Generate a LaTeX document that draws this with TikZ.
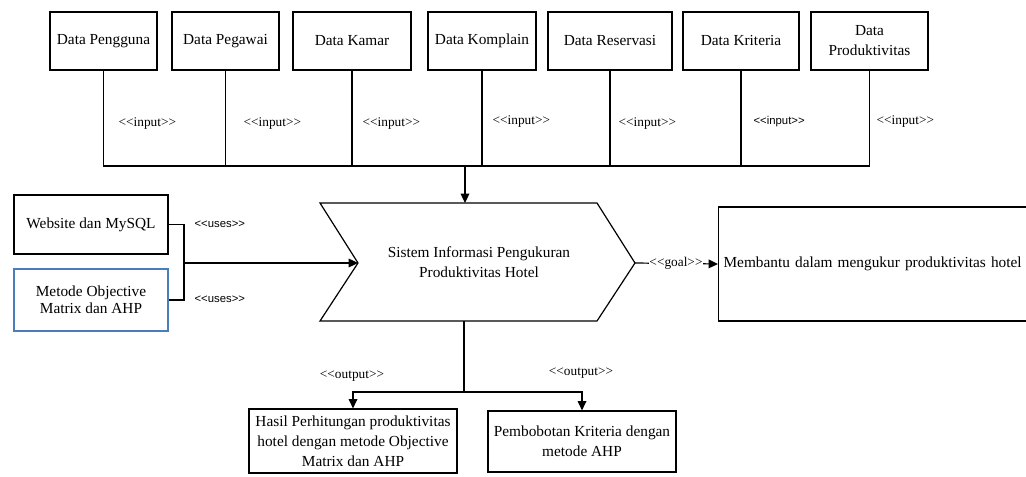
\documentclass[tikz,border=0pt]{standalone}
\usepackage{fontspec}
\setmainfont{Liberation Serif}[Ligatures=ResetAll]
\newfontfamily\labelsans{Liberation Sans}[Ligatures=ResetAll]
\usetikzlibrary{arrows.meta}
\newcommand{\pxu}{0.75pt}
\newcommand{\stereotype}[1]{<{}<#1>{}>}
\definecolor{frameblue}{RGB}{74,126,187}
\begin{document}
\begin{tikzpicture}[x=0.75pt,y=-0.75pt,
  box/.style={draw, line width=0.9pt, align=center, inner sep=2pt,
    font=\rmfamily\fontsize{11.5}{15}\selectfont},
  wire/.style={line width=0.9pt},
  arr/.style={line width=0.9pt, -{Triangle[length=7pt,width=6.5pt]}},
  stereo/.style={font=\rmfamily\fontsize{10}{12}\selectfont, inner sep=1pt},
  stereosmall/.style={font=\labelsans\fontsize{8.5}{10}\selectfont, inner sep=1pt}]
\useasboundingbox (0,0) rectangle (1026,477);
\clip (0,0) rectangle (1026,477);

% data sources along the top
\node[box, minimum width={107*\pxu}, minimum height={58*\pxu}] (b1) at (103.5,41) {Data Pengguna};
\node[box, minimum width={107*\pxu}, minimum height={58*\pxu}] (b2) at (225.5,41) {Data Pegawai};
\node[box, minimum width={118*\pxu}, minimum height={58*\pxu}] (b3) at (352,41) {Data Kamar};
\node[box, minimum width={108*\pxu}, minimum height={58*\pxu}] (b4) at (482,41) {Data Komplain};
\node[box, minimum width={124*\pxu}, minimum height={58*\pxu}] (b5) at (610,41) {Data Reservasi};
\node[box, minimum width={116*\pxu}, minimum height={58*\pxu}] (b6) at (741,41) {Data Kriteria};
\node[box, minimum width={117*\pxu}, minimum height={58*\pxu}] (b7) at (869.5,41) {Data\\Produktivitas};

% input bus
\coordinate (busL) at (103.5,166);
\coordinate (busR) at (869.5,166);
\coordinate (busDrop) at (465,166);
\draw[wire] (b1.south) |- (busR) -- (b7.south);
\foreach \b in {b2,b3,b4,b5,b6}
  \draw[wire] (\b.south) -- (\b.south |- busL);

\node[stereo, anchor=west] (l1) at (117,124) {\stereotype{input}};
\node[stereo, anchor=west] (l2) at (242,124) {\stereotype{input}};
\node[stereo, anchor=west] (l3) at (361,124) {\stereotype{input}};
\node[stereo, anchor=west] (l4) at (491,122) {\stereotype{input}};
\node[stereo, anchor=west] (l5) at (617,124) {\stereotype{input}};
\node[stereosmall, anchor=west] (l6) at (752,122) {\stereotype{input}};
\node[stereo, anchor=west] (l7) at (875,122) {\stereotype{input}};

% central system (chevron)
\coordinate (sysTL) at (320,203);
\coordinate (sysTR) at (597,203);
\coordinate (sysTip) at (635,263);
\coordinate (sysBR) at (597,321);
\coordinate (sysBL) at (320,321);
\coordinate (sysNotch) at (358,263);
\coordinate (sysTop) at (465,203);
\coordinate (sysBot) at (464,321);
\draw[line width=0.9pt, line join=miter] (sysTL) -- (sysTR) -- (sysTip) -- (sysBR) -- (sysBL) -- (sysNotch) -- cycle;
\node[align=center, font=\rmfamily\fontsize{11.5}{15}\selectfont] (sys) at (479,262)
  {Sistem Informasi Pengukuran\\Produktivitas Hotel};
\draw[arr] (busDrop) -- (sysTop);

% resources on the left
\node[box, minimum width={154*\pxu}, minimum height={59*\pxu}] (web) at (91,224.5) {Website dan MySQL};
\node[box, draw=frameblue, minimum width={154*\pxu}, minimum height={62*\pxu},
  font=\rmfamily\fontsize{11.5}{13}\selectfont] (met) at (91,300) {Metode Objective\\Matrix dan AHP};
\coordinate (join) at (184,263);
\draw[wire] (web.east) -| (join) |- (met.east);
\draw[arr] (join) -- (sysNotch);
\node[stereosmall, anchor=west] (u1) at (193,224) {\stereotype{uses}};
\node[stereosmall, anchor=west] (u2) at (193,299) {\stereotype{uses}};

% goal
\node[box, anchor=west, minimum width={330*\pxu}, minimum height={114*\pxu},
  text width={320*\pxu}, align=left, inner sep=3pt] (goal) at (718,264)
  {Membantu dalam mengukur produktivitas hotel};
\draw[arr] (sysTip) -- (goal.west);
\node[stereo, fill=white, inner sep=0.5pt] (gl) at (676,263) {\stereotype{goal}};

% outputs
\node[box, minimum width={208*\pxu}, minimum height={64*\pxu}] (o1) at (353,441)
  {Hasil Perhitungan produktivitas\\hotel dengan metode Objective\\Matrix dan AHP};
\node[box, minimum width={188*\pxu}, minimum height={61*\pxu}] (o2) at (582,441.5)
  {Pembobotan Kriteria dengan\\metode AHP};
\coordinate (outJ) at (464,392);
\draw[wire] (sysBot) -- (outJ);
\draw[arr] (outJ) -| (o1.north);
\draw[arr] (outJ) -| (o2.north);
\node[stereo] (ol1) at (352,376) {\stereotype{output}};
\node[stereo] (ol2) at (581,373) {\stereotype{output}};
\end{tikzpicture}
\end{document}
